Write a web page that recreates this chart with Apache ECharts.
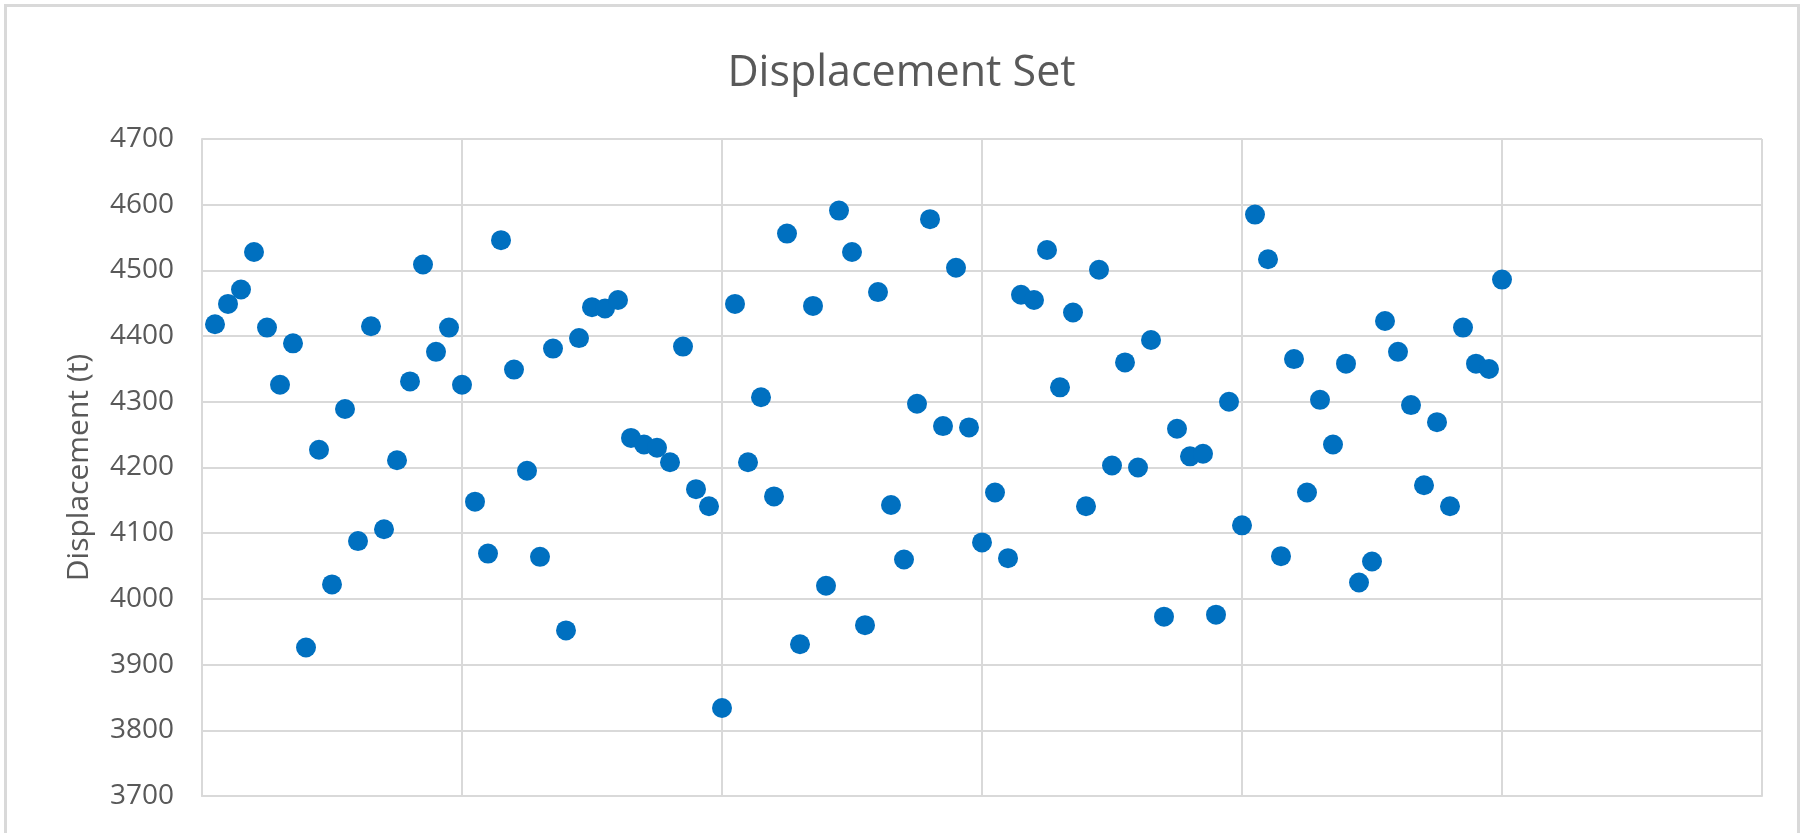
<!DOCTYPE html>
<html>
<head>
<meta charset="utf-8">
<script src="https://cdn.jsdelivr.net/npm/echarts@6/dist/echarts.min.js"></script>
<style>
html,body{margin:0;padding:0;background:#fff;}
#frame{position:absolute;left:4px;top:4px;width:1796px;height:840px;border:3px solid #d9d9d9;box-sizing:border-box;}
#chart{position:absolute;left:0;top:0;width:1803px;height:833px;}
</style>
</head>
<body>
<div id="frame"></div>
<div id="chart"></div>
<script>
const titleText = "Displacement Set";
const yAxisName = "Displacement (t)";
const xIndex = [];
for (let i = 1; i <= 100; i++) xIndex.push(i);
const displacement = [
  4418, 4449, 4471, 4528, 4413, 4326, 4389, 3926, 4227, 4022,
  4289, 4088, 4415, 4106, 4211, 4331, 4509, 4376, 4413, 4326,
  4148, 4069, 4546, 4349, 4195, 4064, 4381, 3952, 4397, 4444,
  4442, 4455, 4245, 4235, 4230, 4208, 4384, 4167, 4141, 3834,
  4449, 4208, 4307, 4156, 4556, 3931, 4446, 4020, 4591, 4528,
  3960, 4467, 4143, 4060, 4297, 4578, 4263, 4504, 4261, 4086,
  4162, 4062, 4463, 4455, 4531, 4322, 4436, 4141, 4501, 4203,
  4360, 4200, 4394, 3973, 4259, 4217, 4221, 3976, 4300, 4112,
  4585, 4517, 4065, 4365, 4162, 4303, 4235, 4358, 4025, 4057,
  4423, 4376, 4295, 4173, 4269, 4141, 4413, 4358, 4350, 4486
];
const yTicks = [3700, 3800, 3900, 4000, 4100, 4200, 4300, 4400, 4500, 4600, 4700];

const data = xIndex.map((x, i) => [x, displacement[i]]);
const chart = echarts.init(document.getElementById('chart'), null, {renderer: 'canvas'});
const gridColor = '#d9d9d9';
chart.setOption({
  animation: false,
  backgroundColor: 'transparent',
  title: {
    text: titleText,
    left: 'center',
    top: 47,
    textStyle: {fontFamily: 'Open Sans', fontSize: 43, fontWeight: 'normal', color: '#595959'}
  },
  grid: {left: 202, right: 41, top: 139, bottom: 37},
  xAxis: {
    type: 'value', min: 0, max: 120, interval: 20,
    axisLine: {show: true, lineStyle: {color: gridColor, width: 2}},
    axisTick: {show: false},
    axisLabel: {show: false},
    splitLine: {show: true, lineStyle: {color: gridColor, width: 2}}
  },
  yAxis: {
    type: 'value', min: yTicks[0], max: yTicks[yTicks.length - 1], interval: 100,
    name: yAxisName,
    nameLocation: 'middle',
    nameGap: 108,
    nameTextStyle: {fontFamily: 'Open Sans', fontSize: 30, color: '#595959'},
    axisLine: {show: true, lineStyle: {color: gridColor, width: 2}},
    axisTick: {show: false},
    axisLabel: {
      margin: 28, fontFamily: 'Open Sans', fontSize: 28, color: '#595959',
      formatter: v => String(v)
    },
    splitLine: {show: true, lineStyle: {color: gridColor, width: 2}}
  },
  series: [{
    type: 'scatter',
    data: data,
    symbol: 'circle',
    symbolSize: 20,
    itemStyle: {color: '#0070C0', opacity: 1}
  }]
});
</script>
</body>
</html>
